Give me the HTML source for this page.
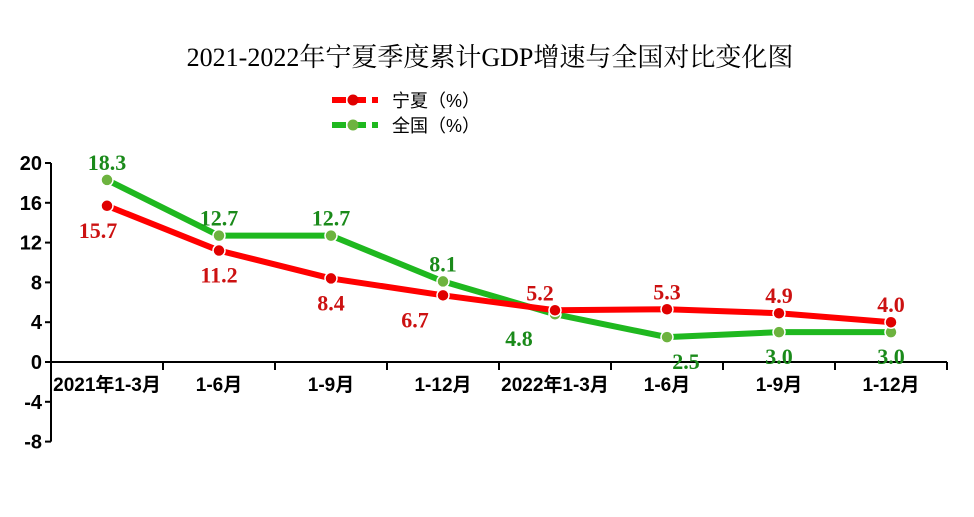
<!DOCTYPE html>
<html><head><meta charset="utf-8"><style>
body{margin:0;background:#fff;}
svg text{font-family:"Liberation Sans","Noto Sans CJK SC",sans-serif;}
</style></head><body>
<svg width="974" height="512" xmlns="http://www.w3.org/2000/svg">
<text x="490" y="66" text-anchor="middle" font-size="26" style="font-family:'Liberation Serif','Noto Serif CJK SC',serif">2021-2022年宁夏季度累计GDP增速与全国对比变化图</text>
<g>
<line x1="332" y1="100" x2="378" y2="100" stroke="#ff0000" stroke-width="6" stroke-dasharray="14,6"/>
<circle cx="353" cy="100" r="5.5" fill="#e00000"/>
<text x="392" y="107" font-size="18">宁夏（%）</text>
<line x1="332" y1="125" x2="378" y2="125" stroke="#1fb81f" stroke-width="6" stroke-dasharray="14,6"/>
<circle cx="353" cy="125" r="5.5" fill="#6db33f"/>
<text x="392" y="132" font-size="18">全国（%）</text>
</g>
<g id="axes"></g>
<g id="series"></g>
</svg>
<script>
const categories=["2021年1-3月","1-6月","1-9月","1-12月","2022年1-3月","1-6月","1-9月","1-12月"];
const nxValues=[15.7,11.2,8.4,6.7,5.2,5.3,4.9,4.0];
const cnValues=[18.3,12.7,12.7,8.1,4.8,2.5,3.0,3.0];
const yTicks=[20,16,12,8,4,0,-4,-8];
const nxLabelPos=["below","below","below","below","above","above","above","above"];
const cnLabelPos=["above","above","above","above","below","below","below","below"];
const nxLabelShift=[-9,0,0,-28,-15,0,0,0];
const cnLabelShift=[0,0,0,0,-36,19,0,0];
const NS="http://www.w3.org/2000/svg";
const x0=51,step=112,y0=362,ppu=9.95;
const X=i=>x0+step*(i+0.5);
const Y=v=>y0-v*ppu;
function mk(t,a,p){const e=document.createElementNS(NS,t);for(const k in a)e.setAttribute(k,a[k]);p.appendChild(e);return e;}
const ax=document.getElementById('axes');
let l=mk('line',{x1:x0,y1:Y(20),x2:x0,y2:Y(-8),stroke:'#000','stroke-width':2},ax);


yTicks.forEach(v=>{
 mk('line',{x1:x0-6,y1:Y(v),x2:x0,y2:Y(v),stroke:'#000','stroke-width':2},ax);
 const t=mk('text',{x:x0-9,y:Y(v)+7,'text-anchor':'end','font-size':20,'font-weight':'bold'},ax);
 t.textContent=v;
 
 
});
l=mk('line',{x1:x0,y1:y0,x2:x0+step*categories.length,y2:y0,stroke:'#000','stroke-width':2},ax);


categories.forEach((c,i)=>{
 mk('line',{x1:x0+step*(i+1),y1:y0,x2:x0+step*(i+1),y2:y0+8,stroke:'#000','stroke-width':2},ax);
 const t=mk('text',{x:X(i),y:y0+29,'text-anchor':'middle','font-size':19,'font-weight':'bold'},ax);
 t.textContent=c;
 
 
});
const sg=document.getElementById('series');
function series(vals,pos,shift,lc,mc,tc,name){
 const pl=mk('polyline',{points:vals.map((v,i)=>X(i)+','+Y(v)).join(' '),fill:'none',stroke:lc,'stroke-width':6,'stroke-linejoin':'round'},sg);
 
 
 vals.forEach((v,i)=>{
  const c=mk('circle',{cx:X(i),cy:Y(v),r:6,fill:mc,stroke:'#fff','stroke-width':1.5},sg);
  
  
  const dy=pos[i]==='above'?-10:32;
  const t=mk('text',{x:X(i)+shift[i],y:Y(v)+dy,'text-anchor':'middle','font-size':22,'font-weight':'bold',fill:tc,style:"font-family:'Liberation Serif',serif"},sg);
  t.textContent=v.toFixed(1);
  
  
 });
}
series(cnValues,cnLabelPos,cnLabelShift,'#1fb81f','#6db33f','#1a8a1a','national');
series(nxValues,nxLabelPos,nxLabelShift,'#ff0000','#e00000','#cc1111','ningxia');
</script>
</body></html>
